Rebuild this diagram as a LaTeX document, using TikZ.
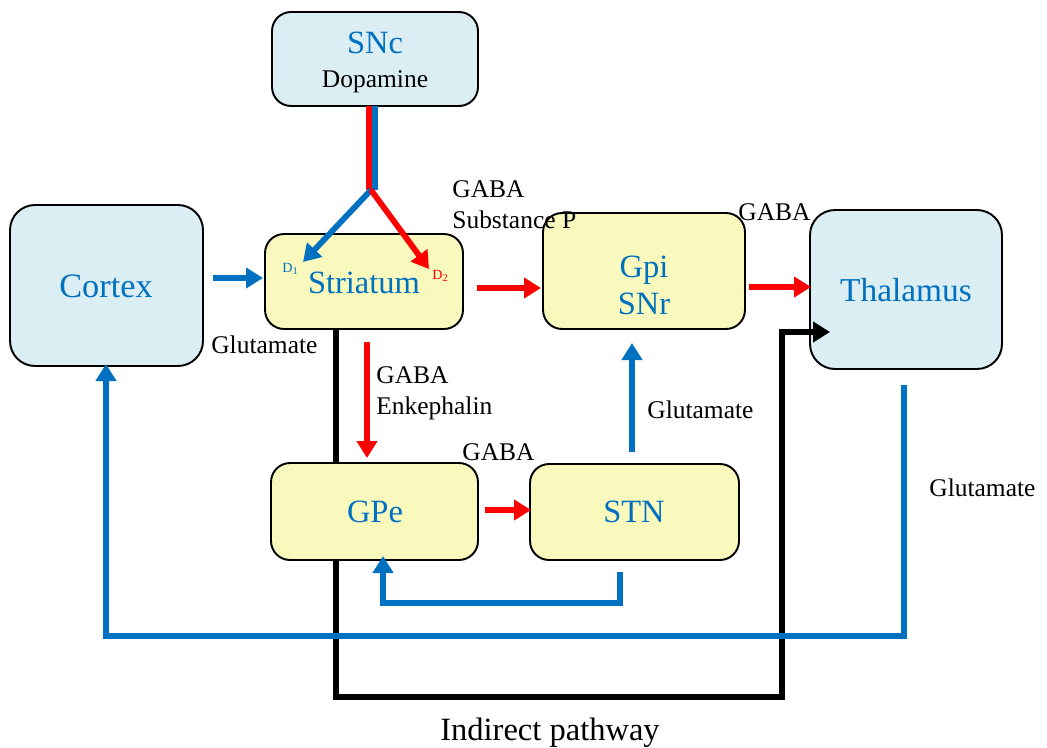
\documentclass[tikz,border=0pt]{standalone}
\usepackage{fontspec}
\setmainfont{Liberation Serif}
\usetikzlibrary{arrows.meta,calc}
\definecolor{lblue}{HTML}{DAEEF3}
\definecolor{lyel}{HTML}{F9F9BD}
\definecolor{tblue}{HTML}{0070C0}
\definecolor{tred}{HTML}{FF0000}
\tikzset{
  box/.style={draw=black, line width=1.1pt, inner sep=0pt, outer sep=0pt},
  bigbox/.style={box, fill=lblue, rounded corners=0.5cm},
  smallbox/.style={box, rounded corners=0.38cm},
  boxtext/.style={text=tblue, font=\fontsize{18.5}{20}\selectfont, anchor=base, inner sep=0pt},
  lbl/.style={font=\fontsize{14.5}{16}\selectfont, anchor=base west, inner sep=0pt},
  conn/.style={line width=3.3pt},
  tipped/.style={-{Triangle[length=0.34cm,width=0.40cm]}},
  bconn/.style={conn, draw=tblue},
  rconn/.style={conn, draw=tred},
  kconn/.style={line width=3.6pt, draw=black, line join=miter},
}
\begin{document}
\begin{tikzpicture}[x=0.02cm, y=-0.02cm]
\useasboundingbox (0,0) rectangle (1047,747);
% indirect pathway (behind the boxes)
\coordinate (k1) at (336,329); \coordinate (k2) at (336,697); \coordinate (k3) at (782,697); \coordinate (k4) at (782,332); \coordinate (k5) at (830,332);
\draw[kconn] (k1) -- (k2) -- (k3) -- (k4) -- (k5);
% boxes
\node[smallbox, fill=lblue, minimum width=4.12cm, minimum height=1.88cm] (snc) at (375,59) {};
\node[bigbox, minimum width=3.86cm, minimum height=3.22cm] (cortex) at (106.5,285.5) {};
\node[smallbox, fill=lyel, minimum width=3.96cm, minimum height=1.90cm] (striatum) at (364,281.5) {};
\node[smallbox, fill=lyel, minimum width=4.04cm, minimum height=2.32cm] (gpi) at (644,271) {};
\node[bigbox, minimum width=3.84cm, minimum height=3.18cm] (thalamus) at (906,289.5) {};
\node[smallbox, fill=lyel, minimum width=4.14cm, minimum height=1.94cm] (gpe) at (374.5,511.5) {};
\node[smallbox, fill=lyel, minimum width=4.18cm, minimum height=1.92cm] (stn) at (634.5,512) {};
% box texts
\node[boxtext] (tsnc) at (375,53) {SNc};
\node[anchor=base, inner sep=0pt, font=\fontsize{14.5}{16}\selectfont] (tdopa) at (375,87) {Dopamine};
\node[boxtext, font=\fontsize{19.5}{21}\selectfont] (tcortex) at (106,297) {Cortex};
\node[boxtext] (tstriatum) at (364,293) {Striatum};
\node[boxtext, font=\fontsize{19}{21}\selectfont] (tthal) at (906,301) {Thalamus};
\node[boxtext] (tgpi) at (644,277) {Gpi};
\node[boxtext] (tsnr) at (644,314) {SNr};
\node[boxtext] (tgpe) at (375,522) {GPe};
\node[boxtext] (tstn) at (634,522) {STN};
\node[anchor=base west, inner sep=0pt, text=tblue, font=\fontsize{8}{9}\selectfont] (d1) at (282,272) {D\textsubscript{1}};
\node[anchor=base west, inner sep=0pt, text=tred, font=\fontsize{8}{9}\selectfont] (d2) at (432,279) {D\textsubscript{2}};
% labels
\node[lbl] (l1) at (452,197) {GABA};
\node[lbl] (l2) at (452,228) {Substance P};
\node[lbl] (l3) at (738,220) {GABA};
\node[lbl] (l4) at (211,353) {Glutamate};
\node[lbl] (l5) at (376,383) {GABA};
\node[lbl] (l6) at (376,414) {Enkephalin};
\node[lbl] (l7) at (462,460) {GABA};
\node[lbl] (l8) at (647,418) {Glutamate};
\node[lbl] (l9) at (929,496) {Glutamate};
\node[anchor=base, inner sep=0pt, font=\fontsize{18.5}{20}\selectfont] (l10) at (550,740) {Indirect pathway};
% coordinates
\coordinate (split) at (371,190);
\coordinate (d1tip) at (303,262);
\coordinate (d2tip) at (429,269);
\coordinate (c1) at (213,278); \coordinate (c2) at (263,278);
\coordinate (s1) at (477,288); \coordinate (s2) at (541,288);
\coordinate (g1) at (749,287); \coordinate (g2) at (811,287);
\coordinate (v1) at (367,342); \coordinate (v2) at (367,458);
\coordinate (e1) at (485,510); \coordinate (e2) at (531,510);
\coordinate (u1) at (632,452); \coordinate (u2) at (632,343);
\coordinate (f1) at (620,572); \coordinate (f2) at (620,603); \coordinate (f3) at (383,603); \coordinate (f4) at (383,556);
\coordinate (t1) at (904,385); \coordinate (t2) at (904,636); \coordinate (t3) at (106,636); \coordinate (t4) at (106,364);
% connectors
\draw[kconn, tipped] (k4) -- (k5);
\draw[conn, draw=tred, line width=3pt] ([xshift=-0.06cm]snc.south) ++(-3,0) -- ++(0,84);
\draw[conn, draw=tblue, line width=3pt] ([xshift=-0.06cm]snc.south) ++(3,0) -- ++(0,84);
\draw[bconn, tipped] (split) -- (d1tip);
\draw[rconn, tipped] (split) -- (d2tip);
\draw[bconn, tipped] (c1) -- (c2);
\draw[rconn, tipped] (s1) -- (s2);
\draw[rconn, tipped] (g1) -- (g2);
\draw[rconn, tipped] (v1) -- (v2);
\draw[rconn, tipped] (e1) -- (e2);
\draw[bconn, tipped] (u1) -- (u2);
\draw[bconn, tipped] (f1) -- (f2) -- (f3) -- (f4);
\draw[bconn, tipped] (t1) -- (t2) -- (t3) -- (t4);
\end{tikzpicture}
\end{document}
